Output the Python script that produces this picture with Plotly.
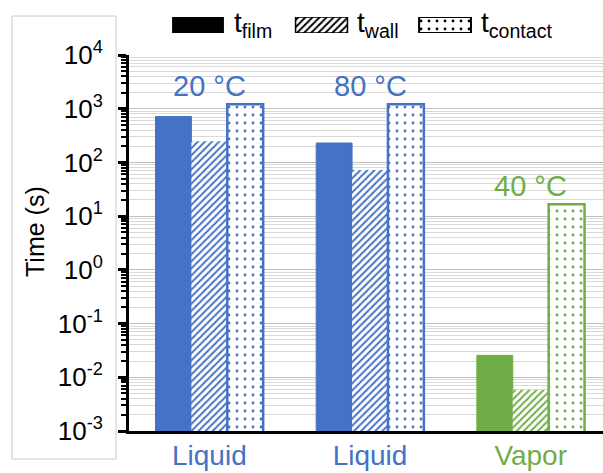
import plotly.graph_objects as go
import math

# ---- data ----
categories = ["Liquid", "Liquid", "Vapor"]
temperatures = ["20 °C", "80 °C", "40 °C"]
group_colors = ["#4472C4", "#4472C4", "#70AD47"]
t_film = [714, 230, 0.0256]
t_wall = [247, 72, 0.0058]
t_contact = [1210, 1210, 16.7]
series_labels = ["t<sub>film</sub>", "t<sub>wall</sub>", "t<sub>contact</sub>"]
ytick_exponents = [-3, -2, -1, 0, 1, 2, 3, 4]
y_title = "Time (s)"

FONT = "Liberation Sans, Arial, sans-serif"
xpos = list(range(len(categories)))

# per-series styles: (pattern shape, pattern size, solidity, outline width)
styles = [("", 5, 0.4, 1.0), ("/", 5, 0.4, 0.0), (".", 8, 0.1, 2.5)]
series_values = [t_film, t_wall, t_contact]
series_names = ["t_film", "t_wall", "t_contact"]

fig = go.Figure()

for vals, name, (shape, psize, solid, lw) in zip(series_values, series_names, styles):
    if shape == "":
        marker = dict(color=group_colors, line=dict(color=group_colors, width=lw))
    else:
        marker = dict(color="white", line=dict(color=group_colors, width=lw),
                      pattern=dict(shape=shape, fgcolor=group_colors, bgcolor="white",
                                   size=psize, solidity=solid))
    fig.add_trace(go.Bar(x=xpos, y=vals, name=name, showlegend=False, marker=marker))

# legend swatches drawn as a small bar subplot (wide rectangles like the reference)
for i, (name, (shape, psize, solid, lw)) in enumerate(zip(series_names, styles)):
    if shape == "":
        marker = dict(color="black", line=dict(color="black", width=0))
    else:
        marker = dict(color="white", line=dict(color="black", width=1.5 if shape == "/" else 2),
                      pattern=dict(shape=shape, fgcolor="black", bgcolor="white",
                                   size=psize, solidity=solid))
    fig.add_trace(go.Bar(
        x=[i], y=[1], width=0.42, offset=-0.21, name=name + " legend",
        xaxis="x3", yaxis="y3", showlegend=False, hoverinfo="skip", marker=marker,
    ))

annotations = []
for i, lab in enumerate(series_labels):
    annotations.append(dict(
        x=i + 0.275, y=0.5, xref="x3", yref="y3", xanchor="left", yanchor="middle",
        text=lab, showarrow=False, font=dict(family=FONT, size=28, color="black"),
    ))
for i, t in enumerate(temperatures):
    annotations.append(dict(
        x=xpos[i], y=math.log10(t_contact[i]), xref="x", yref="y",
        xanchor="center", yanchor="bottom", yshift=0,
        text=t, showarrow=False, font=dict(family=FONT, size=29, color=group_colors[i]),
    ))
annotations.append(dict(
    x=-0.1983, y=0.4727, xref="paper", yref="paper", xanchor="center", yanchor="middle",
    text=y_title, textangle=-90, showarrow=False,
    font=dict(family=FONT, size=25, color="black"),
))

tick_texts_x = [f'<span style="color:{c}">{n}</span>' for n, c in zip(categories, group_colors)]

fig.update_layout(
    template="none",
    width=603, height=473,
    margin=dict(l=129, r=0, t=10, b=42),
    paper_bgcolor="white", plot_bgcolor="white",
    barmode="group", bargap=0.33, bargroupgap=0,
    font=dict(family=FONT, color="black"),
    showlegend=False,
    annotations=annotations,
    shapes=[dict(type="rect", xref="paper", yref="paper",
                 x0=-0.2468, x1=-0.0274, y0=-0.0665, y1=0.9857,
                 line=dict(color="#c8c8c8", width=1), layer="below")],
    xaxis=dict(
        domain=[0, 1], range=[-0.5, 2.45], automargin=False,
        tickmode="array", tickvals=xpos, ticktext=tick_texts_x,
        tickfont=dict(family=FONT, size=28),
        showline=True, linecolor="black", linewidth=3,
        ticks="", showgrid=False, zeroline=False, ticklabelstandoff=-3,
    ),
    yaxis=dict(
        type="log", domain=[0, 0.8931], range=[-3, 4], automargin=False,
        tickmode="array",
        tickvals=[10 ** e for e in ytick_exponents],
        ticktext=[f"10<sup>{e}</sup>" for e in ytick_exponents],
        tickfont=dict(family=FONT, size=26, color="black"),
        showline=True, linecolor="black", linewidth=3,
        ticks="outside", ticklen=8, tickwidth=2.5, tickcolor="black",
        ticklabelstandoff=10,
        showgrid=True, gridcolor="#bfbfbf", gridwidth=1, zeroline=False,
        minor=dict(ticks="outside", ticklen=5, tickwidth=1.5, tickcolor="black",
                   dtick="D1", showgrid=True, gridcolor="#d9d9d9", gridwidth=1),
    ),
    xaxis3=dict(domain=[0, 1], anchor="y3", range=[-0.5587, 3.279], visible=False),
    yaxis3=dict(domain=[0.9454, 0.9834], anchor="x3", range=[0, 1], visible=False),
)

fig.write_html("out.html")
